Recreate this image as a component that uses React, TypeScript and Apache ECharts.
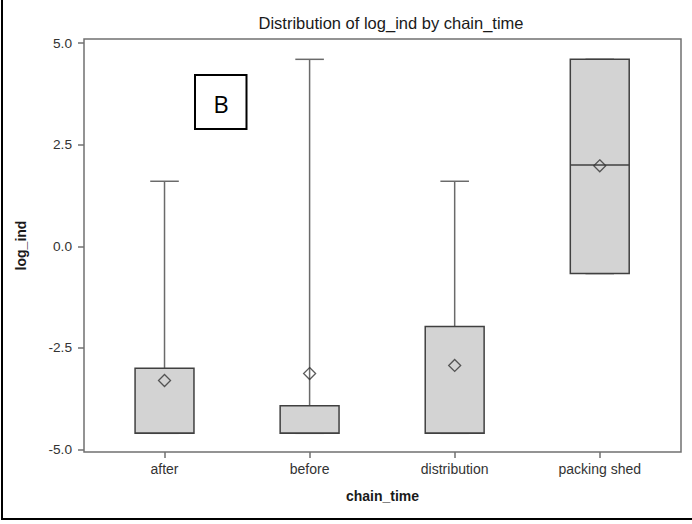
import React, { useEffect, useRef } from "react";
import * as echarts from "echarts";

// Box-plot summary of log_ind per chain_time group
const categories = ["after", "before", "distribution", "packing shed"];
const whiskerLow = [-4.6, -4.6, -4.6, -0.67];
const q1 = [-4.6, -4.6, -4.6, -0.67];
const median = [-4.6, -4.6, -4.6, 2.0];
const q3 = [-3.0, -3.92, -1.97, 4.6];
const whiskerHigh = [1.6, 4.6, 1.6, 4.6];
const means = [-3.3, -3.13, -2.93, 1.98];
const yTicks = [-5, -2.5, 0, 2.5, 5];

const FONT = "'Liberation Sans', Arial, sans-serif";
const BOX_W = 0.406; // in category units
const CAP_W = 0.197;

export default function App() {
  const ref = useRef<HTMLDivElement>(null);

  useEffect(() => {
    if (!ref.current) return;
    const chart = echarts.init(ref.current, null, { renderer: "svg" });

    const boxData = categories.map((_, i) => [
      i,
      whiskerLow[i],
      q1[i],
      median[i],
      q3[i],
      whiskerHigh[i],
    ]);
    const meanData = categories.map((_, i) => [i, means[i]]);

    const whiskerStyle = { stroke: "#6a6a6a", lineWidth: 1.5 };

    chart.setOption({
      animation: false,
      backgroundColor: "#ffffff",
      title: {
        text: "Distribution of log_ind by chain_time",
        left: 386,
        textAlign: "center",
        top: 9,
        textStyle: {
          fontFamily: FONT,
          fontSize: 16.5,
          fontWeight: "normal",
          color: "#1a1a1a",
        },
      },
      grid: {
        left: 84,
        top: 39,
        width: 597,
        height: 413,
        show: true,
        borderColor: "#707070",
        borderWidth: 1.5,
        backgroundColor: "transparent",
      },
      xAxis: {
        type: "value",
        min: -0.555,
        max: 3.56,
        name: "chain_time",
        nameLocation: "middle",
        nameGap: 37,
        nameTextStyle: {
          fontFamily: FONT,
          fontSize: 14,
          fontWeight: "bold",
          color: "#1a1a1a",
        },
        axisLine: { show: false, onZero: false },
        splitLine: { show: false },
        axisTick: {
          show: true,
          length: 6,
          customValues: [0, 1, 2, 3],
          lineStyle: { color: "#707070", width: 1.5 },
        },
        axisLabel: {
          customValues: [0, 1, 2, 3],
          margin: 10,
          fontFamily: FONT,
          fontSize: 14,
          color: "#333333",
          formatter: (v: number) => categories[Math.round(v)] ?? "",
        },
      },
      yAxis: {
        type: "value",
        min: -5.06,
        max: 5.1,
        name: "log_ind",
        nameLocation: "middle",
        nameGap: 56,
        nameRotate: 90,
        nameTextStyle: {
          fontFamily: FONT,
          fontSize: 14,
          fontWeight: "bold",
          color: "#1a1a1a",
        },
        axisLine: { show: false, onZero: false },
        splitLine: { show: false },
        axisTick: {
          show: true,
          length: 6,
          customValues: yTicks,
          lineStyle: { color: "#707070", width: 1.5 },
        },
        axisLabel: {
          customValues: yTicks,
          margin: 12,
          fontFamily: FONT,
          fontSize: 13.7,
          color: "#333333",
          formatter: (v: number) => v.toFixed(1),
        },
      },
      series: [
        {
          type: "custom",
          name: "box",
          data: boxData,
          encode: { x: 0, y: [1, 2, 3, 4, 5] },
          renderItem: (params: any, api: any) => {
            const i = api.value(0);
            const cx = api.coord([i, 0])[0];
            const yLo = api.coord([i, api.value(1)])[1];
            const yQ1 = api.coord([i, api.value(2)])[1];
            const yMed = api.coord([i, api.value(3)])[1];
            const yQ3 = api.coord([i, api.value(4)])[1];
            const yHi = api.coord([i, api.value(5)])[1];
            const bw = api.size([BOX_W, 0])[0];
            const cw = api.size([CAP_W, 0])[0];
            return {
              type: "group",
              children: [
                {
                  type: "line",
                  shape: { x1: cx, y1: yQ3, x2: cx, y2: yHi },
                  style: whiskerStyle,
                },
                {
                  type: "line",
                  shape: { x1: cx - cw / 2, y1: yHi, x2: cx + cw / 2, y2: yHi },
                  style: whiskerStyle,
                },
                {
                  type: "line",
                  shape: { x1: cx, y1: yQ1, x2: cx, y2: yLo },
                  style: whiskerStyle,
                },
                {
                  type: "line",
                  shape: { x1: cx - cw / 2, y1: yLo, x2: cx + cw / 2, y2: yLo },
                  style: whiskerStyle,
                },
                {
                  type: "rect",
                  shape: { x: cx - bw / 2, y: yQ3, width: bw, height: yQ1 - yQ3 },
                  style: { fill: "#d3d3d3", stroke: "#404040", lineWidth: 1.5 },
                },
                {
                  type: "line",
                  shape: { x1: cx - bw / 2, y1: yMed, x2: cx + bw / 2, y2: yMed },
                  style: { stroke: "#404040", lineWidth: 1.5 },
                },
              ],
            };
          },
          z: 2,
        },
        {
          type: "scatter",
          name: "mean",
          data: meanData,
          symbol: "diamond",
          symbolSize: 12,
          itemStyle: {
            color: "rgba(0,0,0,0)",
            borderColor: "#333333",
            borderWidth: 1.3,
          },
          z: 3,
        },
      ],
      graphic: [
        {
          type: "rect",
          shape: { x: 195, y: 75, width: 51.5, height: 54 },
          style: { fill: "#ffffff", stroke: "#000000", lineWidth: 2 },
          z: 10,
        },
        {
          type: "text",
          x: 221,
          y: 103,
          style: {
            text: "B",
            fontFamily: "'Open Sans', 'Liberation Sans', sans-serif",
            fontSize: 24,
            fill: "#000000",
            align: "center",
            verticalAlign: "middle",
          },
          z: 11,
        },
        {
          type: "line",
          shape: { x1: 2, y1: 0, x2: 2, y2: 519 },
          style: { stroke: "#000000", lineWidth: 2 },
        },
        {
          type: "line",
          shape: { x1: 1, y1: 519, x2: 692, y2: 519 },
          style: { stroke: "#000000", lineWidth: 2 },
        },
      ],
    });

    return () => chart.dispose();
  }, []);

  return (
    <div
      ref={ref}
      style={{ position: "fixed", left: 0, top: 0, width: 692, height: 524 }}
    />
  );
}
